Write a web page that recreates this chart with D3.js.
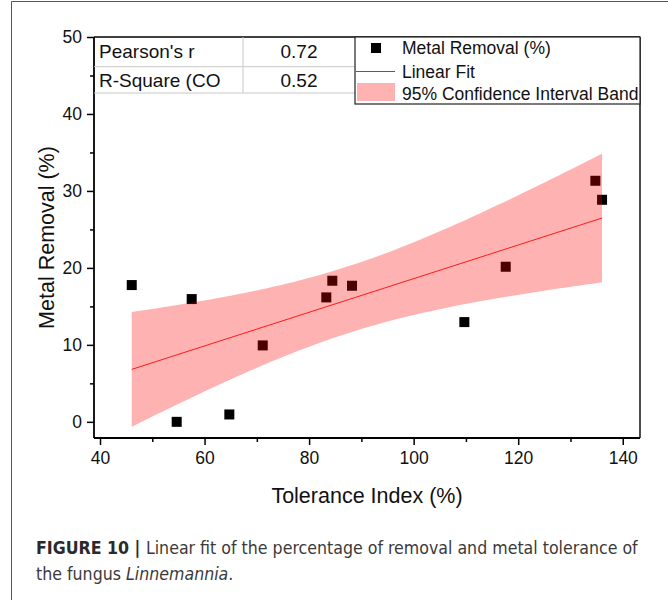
<!DOCTYPE html>
<html>
<head>
<meta charset="utf-8">
<script src="https://cdn.jsdelivr.net/npm/d3@7"></script>
<style>
  html, body { margin: 0; padding: 0; background: #fff; }
  svg { display: block; }
</style>
</head>
<body>
<svg id="chart" width="668" height="600"></svg>
<script>
// Tolerance index (%) and metal removal (%) for each isolate
const toleranceIndex = [46.07, 57.54, 71.13, 54.67, 64.74, 84.44, 83.29, 88.21, 134.76, 136.04, 117.61, 109.70];
const metalRemoval   = [17.77, 15.95, 9.93, 0.00, 0.96, 18.33, 16.17, 17.68, 31.32, 28.85, 20.15, 12.96];

const xTicks = [40, 60, 80, 100, 120, 140];
const xMinorTicks = [50, 70, 90, 110, 130];
const yTicks = [0, 10, 20, 30, 40, 50];
const yMinorTicks = [5, 15, 25, 35, 45];

const statLabels = ["Pearson's r", "R-Square (CO"];
const legendLabels = ["Metal Removal (%)", "Linear Fit", "95% Confidence Interval Band"];

const FONT = "'Liberation Sans', Arial, sans-serif";

// ---- least-squares fit and 95% confidence band ----
const n = toleranceIndex.length;
const mx = d3.mean(toleranceIndex), my = d3.mean(metalRemoval);
let sxx = 0, sxy = 0, syy = 0;
for (let i = 0; i < n; i++) {
  const dx = toleranceIndex[i] - mx, dy = metalRemoval[i] - my;
  sxx += dx * dx; sxy += dx * dy; syy += dy * dy;
}
const slope = sxy / sxx;
const intercept = my - slope * mx;
const pearson = sxy / Math.sqrt(sxx * syy);
const rSquare = pearson * pearson;
const sse = syy - slope * sxy;
const se = Math.sqrt(sse / (n - 2));
const tCrit = 2.228; // t(0.975, df = 10)
const fitAt = x => intercept + slope * x;
const halfWidth = x => tCrit * se * Math.sqrt(1 / n + (x - mx) * (x - mx) / sxx);

const statValues = [pearson, rSquare];

const svg = d3.select("#chart");
svg.append("rect").attr("width", 668).attr("height", 600).attr("fill", "#fff");

// page frame
svg.append("path")
  .attr("d", "M11.5,600 V1.5 H668")
  .attr("fill", "none").attr("stroke", "#555").attr("stroke-width", 1);

// ---- scales ----
const x = d3.scaleLinear().domain([38.85, 143.3]).range([94, 640]);
const y = d3.scaleLinear().domain([-2.1, 50]).range([438, 37]);

const plot = svg.append("g");

// markers
const sq = 10;
plot.selectAll("rect.pt")
  .data(d3.range(n))
  .join("rect")
  .attr("class", "pt")
  .attr("x", i => x(toleranceIndex[i]) - sq / 2)
  .attr("y", i => y(metalRemoval[i]) - sq / 2)
  .attr("width", sq).attr("height", sq)
  .attr("fill", "#000");

// confidence band (drawn over the markers, translucent)
const [xLo, xHi] = d3.extent(toleranceIndex);
const bandXs = d3.range(0, 101).map(k => xLo + (xHi - xLo) * k / 100);
const area = d3.area()
  .x(d => x(d))
  .y0(d => y(fitAt(d) - halfWidth(d)))
  .y1(d => y(fitAt(d) + halfWidth(d)));
plot.append("path")
  .datum(bandXs)
  .attr("d", area)
  .attr("fill", "#ff0000")
  .attr("fill-opacity", 0.3);

// fit line
plot.append("line")
  .attr("x1", x(xLo)).attr("y1", y(fitAt(xLo)))
  .attr("x2", x(xHi)).attr("y2", y(fitAt(xHi)))
  .attr("stroke", "#ff1a1a").attr("stroke-width", 1);

// ---- axes ----
const xAxis = svg.append("g").attr("transform", "translate(0,438)");
xAxis.call(d3.axisBottom(x).tickValues(xTicks).tickSize(7).tickPadding(7).tickFormat(d3.format("d")));
const xMinor = svg.append("g").attr("transform", "translate(0,438)");
xMinor.call(d3.axisBottom(x).tickValues(xMinorTicks).tickSize(4).tickFormat(""));

const yAxis = svg.append("g").attr("transform", "translate(94,0)");
yAxis.call(d3.axisLeft(y).tickValues(yTicks).tickSize(7).tickPadding(5).tickFormat(d3.format("d")));
const yMinor = svg.append("g").attr("transform", "translate(94,0)");
yMinor.call(d3.axisLeft(y).tickValues(yMinorTicks).tickSize(4).tickFormat(""));

[xAxis, xMinor, yAxis, yMinor].forEach(g => {
  g.attr("font-family", FONT);
  g.select(".domain").remove();
  g.selectAll(".tick line").attr("stroke", "#000").attr("stroke-width", 1.5);
  g.selectAll(".tick text").attr("font-family", FONT).attr("font-size", 17.5).attr("fill", "#111");
});

// frame of the plot area
svg.append("line").attr("x1", 94).attr("x2", 640).attr("y1", 438).attr("y2", 438)
  .attr("stroke", "#000").attr("stroke-width", 1.8);
svg.append("line").attr("x1", 94).attr("x2", 94).attr("y1", 37).attr("y2", 438)
  .attr("stroke", "#000").attr("stroke-width", 1.8);
svg.append("line").attr("x1", 94).attr("x2", 640).attr("y1", 37).attr("y2", 37)
  .attr("stroke", "#000").attr("stroke-width", 1.4);
svg.append("line").attr("x1", 640).attr("x2", 640).attr("y1", 37).attr("y2", 438)
  .attr("stroke", "#000").attr("stroke-width", 1.4);

// axis titles
svg.append("text")
  .attr("x", x.range()[0] / 2 + x.range()[1] / 2).attr("y", 503)
  .attr("text-anchor", "middle")
  .attr("font-family", FONT).attr("font-size", 21.5).attr("fill", "#111")
  .text("Tolerance Index (%)");
svg.append("text")
  .attr("transform", `translate(54,${(37 + 438) / 2}) rotate(-90)`)
  .attr("text-anchor", "middle")
  .attr("font-family", FONT).attr("font-size", 21.5).attr("fill", "#111")
  .text("Metal Removal (%)");

// ---- statistics table ----
const table = svg.append("g");
const rowY = [37, 66.7, 93];
table.append("line").attr("x1", 94).attr("x2", 355).attr("y1", rowY[1]).attr("y2", rowY[1])
  .attr("stroke", "#c8c8c8");
table.append("line").attr("x1", 94).attr("x2", 355).attr("y1", rowY[2]).attr("y2", rowY[2])
  .attr("stroke", "#c8c8c8");
table.append("line").attr("x1", 243).attr("x2", 243).attr("y1", 37).attr("y2", rowY[2])
  .attr("stroke", "#c8c8c8");
statLabels.forEach((lab, i) => {
  table.append("text").attr("x", 99).attr("y", rowY[i] + 20.5)
    .attr("font-family", FONT).attr("font-size", 19).attr("fill", "#111").text(lab);
  table.append("text").attr("x", 299).attr("y", rowY[i] + 20.5)
    .attr("text-anchor", "middle")
    .attr("font-family", FONT).attr("font-size", 19).attr("fill", "#111")
    .text(d3.format(".2f")(statValues[i]));
});

// ---- legend ----
const lg = svg.append("g");
lg.append("rect").attr("x", 355).attr("y", 37).attr("width", 285).attr("height", 67)
  .attr("fill", "#fff").attr("stroke", "#222").attr("stroke-width", 1.2);
lg.append("rect").attr("x", 376 - 5).attr("y", 48 - 5).attr("width", 10).attr("height", 10)
  .attr("fill", "#000");
lg.append("line").attr("x1", 356).attr("x2", 395).attr("y1", 71.5).attr("y2", 71.5)
  .attr("stroke", "#ff1a1a").attr("stroke-width", 1);
lg.append("rect").attr("x", 357).attr("y", 83).attr("width", 38).attr("height", 18)
  .attr("fill", "#ff0000").attr("fill-opacity", 0.3);
[54, 78, 100].forEach((by, i) => {
  lg.append("text").attr("x", 402).attr("y", by)
    .attr("font-family", FONT).attr("font-size", 17.5).attr("fill", "#111")
    .text(legendLabels[i]);
});

// ---- caption ----
const CAP_FONT = "'DejaVu Sans Condensed', 'Liberation Sans Narrow', sans-serif";
const cap1 = svg.append("text").attr("x", 36).attr("y", 554)
  .attr("font-family", CAP_FONT).attr("font-size", 17.6).attr("fill", "#3a3a3a");
cap1.append("tspan").attr("font-weight", "bold").attr("fill", "#2a2a2a").text("FIGURE 10 | ");
cap1.append("tspan").text("Linear fit of the percentage of removal and metal tolerance of");
const cap2 = svg.append("text").attr("x", 36).attr("y", 580)
  .attr("font-family", CAP_FONT).attr("font-size", 17.6).attr("fill", "#3a3a3a");
cap2.append("tspan").text("the fungus ");
cap2.append("tspan").attr("font-style", "italic").text("Linnemannia");
cap2.append("tspan").text(".");
</script>
</body>
</html>
